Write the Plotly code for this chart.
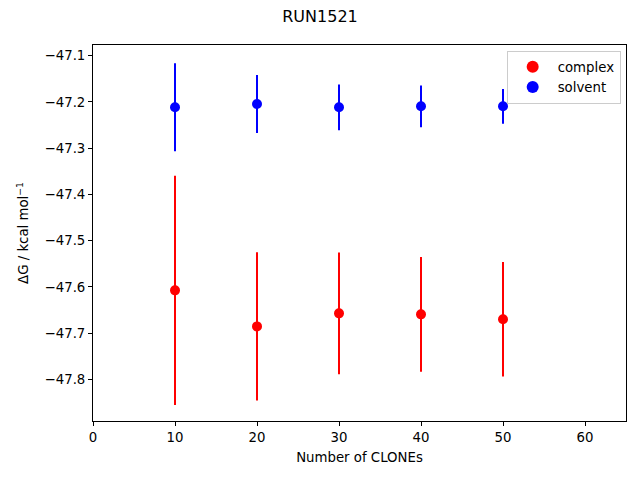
import plotly.graph_objects as go

clones = [10, 20, 30, 40, 50]
complex_dg = [-47.6075, -47.6854, -47.6572, -47.6594, -47.6700]
complex_err = [0.248, 0.1605, 0.1317, 0.124, 0.124]
solvent_dg = [-47.2116, -47.2045, -47.2116, -47.2095, -47.2095]
solvent_err = [0.095, 0.0625, 0.0495, 0.045, 0.0375]
x_ticks = [0, 10, 20, 30, 40, 50, 60]
y_ticks = [-47.1, -47.2, -47.3, -47.4, -47.5, -47.6, -47.7, -47.8]

font = dict(family="DejaVu Sans", size=13.3, color="black")

fig = go.Figure()
fig.add_trace(go.Scatter(
    x=clones, y=complex_dg, mode="markers", name="complex",
    marker=dict(color="red", size=10),
    error_y=dict(type="data", array=complex_err, color="red", thickness=2, width=0),
))
fig.add_trace(go.Scatter(
    x=clones, y=solvent_dg, mode="markers", name="solvent",
    marker=dict(color="blue", size=10),
    error_y=dict(type="data", array=solvent_err, color="blue", thickness=2, width=0),
))

axis_common = dict(
    showline=True, linecolor="black", linewidth=1, mirror=True,
    ticks="outside", ticklen=4, tickcolor="black", showgrid=False, zeroline=False,
    tickfont=font,
)
W, H = 632, 472
fig.update_layout(
    width=W, height=H,
    paper_bgcolor="white", plot_bgcolor="white",
    margin=dict(l=85, r=14, t=37, b=59),
    font=font,
    title=dict(text="RUN1521", x=(320 - 8) / W, xanchor="center", y=1 - 8 / H, yanchor="middle",
               font=dict(family="DejaVu Sans", size=16, color="black")),
    xaxis=dict(range=[0, 65], tickvals=x_ticks, ticktext=[str(v) for v in x_ticks],
               title=dict(text="Number of CLONEs", font=font, standoff=8), **axis_common),
    yaxis=dict(range=[-47.890, -47.0769], tickvals=y_ticks,
               ticktext=["\u2212" + f"{abs(v):.1f}" for v in y_ticks],
               title=dict(text="\u0394G / kcal mol<sup>\u22121</sup>", font=font, standoff=12),
               **axis_common),
    legend=dict(x=0.99, y=0.985, xanchor="right", yanchor="top",
                bgcolor="rgba(255,255,255,0.8)", bordercolor="#cccccc", borderwidth=1,
                font=font, itemsizing="constant", itemwidth=40),
    showlegend=True,
)

fig.write_html("out.html")
